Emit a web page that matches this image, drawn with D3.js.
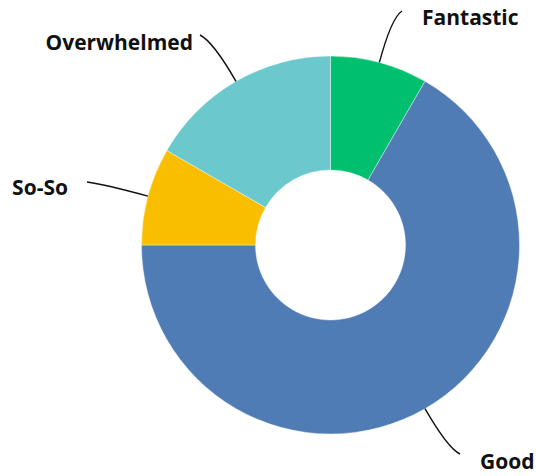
<!DOCTYPE html>
<html>
<head>
<meta charset="utf-8">
<script src="https://cdn.jsdelivr.net/npm/d3@7"></script>
<style>
  html, body { margin: 0; padding: 0; background: #fff; }
  svg { display: block; }
  text { font-family: "Open Sans", "Noto Sans", sans-serif; font-weight: 700; fill: #111; }
</style>
</head>
<body>
<svg id="chart" width="536" height="476"></svg>
<script>
// Survey answers, counted per mood
const categories = ["Fantastic", "Good", "So-So", "Overwhelmed"];
const values = [1, 8, 1, 2];
const colors = ["#00bf6f", "#507cb6", "#f9be00", "#6bc8cd"];

// Where each label's text sits and where its leader line ends
const labelPos = [
  { x: 422, y: 25, anchor: "start", lx: 402, ly: 11 },
  { x: 480, y: 469, anchor: "start", lx: 460, ly: 454 },
  { x: 68, y: 195, anchor: "end", lx: 87, ly: 182 },
  { x: 193, y: 50, anchor: "end", lx: 200, ly: 35 }
];

const svg = d3.select("#chart");
const cx = 330.5, cy = 245;
const outerR = 189, innerR = 75, bendR = 235;

const data = categories.map((c, i) => ({ name: c, value: values[i], color: colors[i], pos: labelPos[i] }));

const pie = d3.pie().value(d => d.value).sort(null);
const arc = d3.arc().innerRadius(innerR).outerRadius(outerR);
const arcs = pie(data);

const g = svg.append("g").attr("transform", `translate(${cx},${cy})`);

g.selectAll("path.slice")
  .data(arcs)
  .enter().append("path")
  .attr("class", "slice")
  .attr("d", arc)
  .attr("fill", d => d.data.color)
  .attr("stroke", "#ffffff")
  .attr("stroke-width", 0.4);

// Curved leader lines from the middle of each slice's rim out to its label
g.selectAll("path.leader")
  .data(arcs)
  .enter().append("path")
  .attr("class", "leader")
  .attr("fill", "none")
  .attr("stroke", "#111")
  .attr("stroke-width", 1.4)
  .attr("d", d => {
    const a = (d.startAngle + d.endAngle) / 2;
    const sx = outerR * Math.sin(a), sy = -outerR * Math.cos(a);
    const qx = bendR * Math.sin(a), qy = -bendR * Math.cos(a);
    const ex = d.data.pos.lx - cx, ey = d.data.pos.ly - cy;
    const p = d3.path();
    p.moveTo(sx, sy);
    p.quadraticCurveTo(qx, qy, ex, ey);
    return p.toString();
  });

svg.selectAll("text.label")
  .data(data)
  .enter().append("text")
  .attr("class", "label")
  .attr("x", d => d.pos.x)
  .attr("y", d => d.pos.y)
  .attr("text-anchor", d => d.pos.anchor)
  .attr("font-size", 21)
  .text(d => d.name);
</script>
</body>
</html>
